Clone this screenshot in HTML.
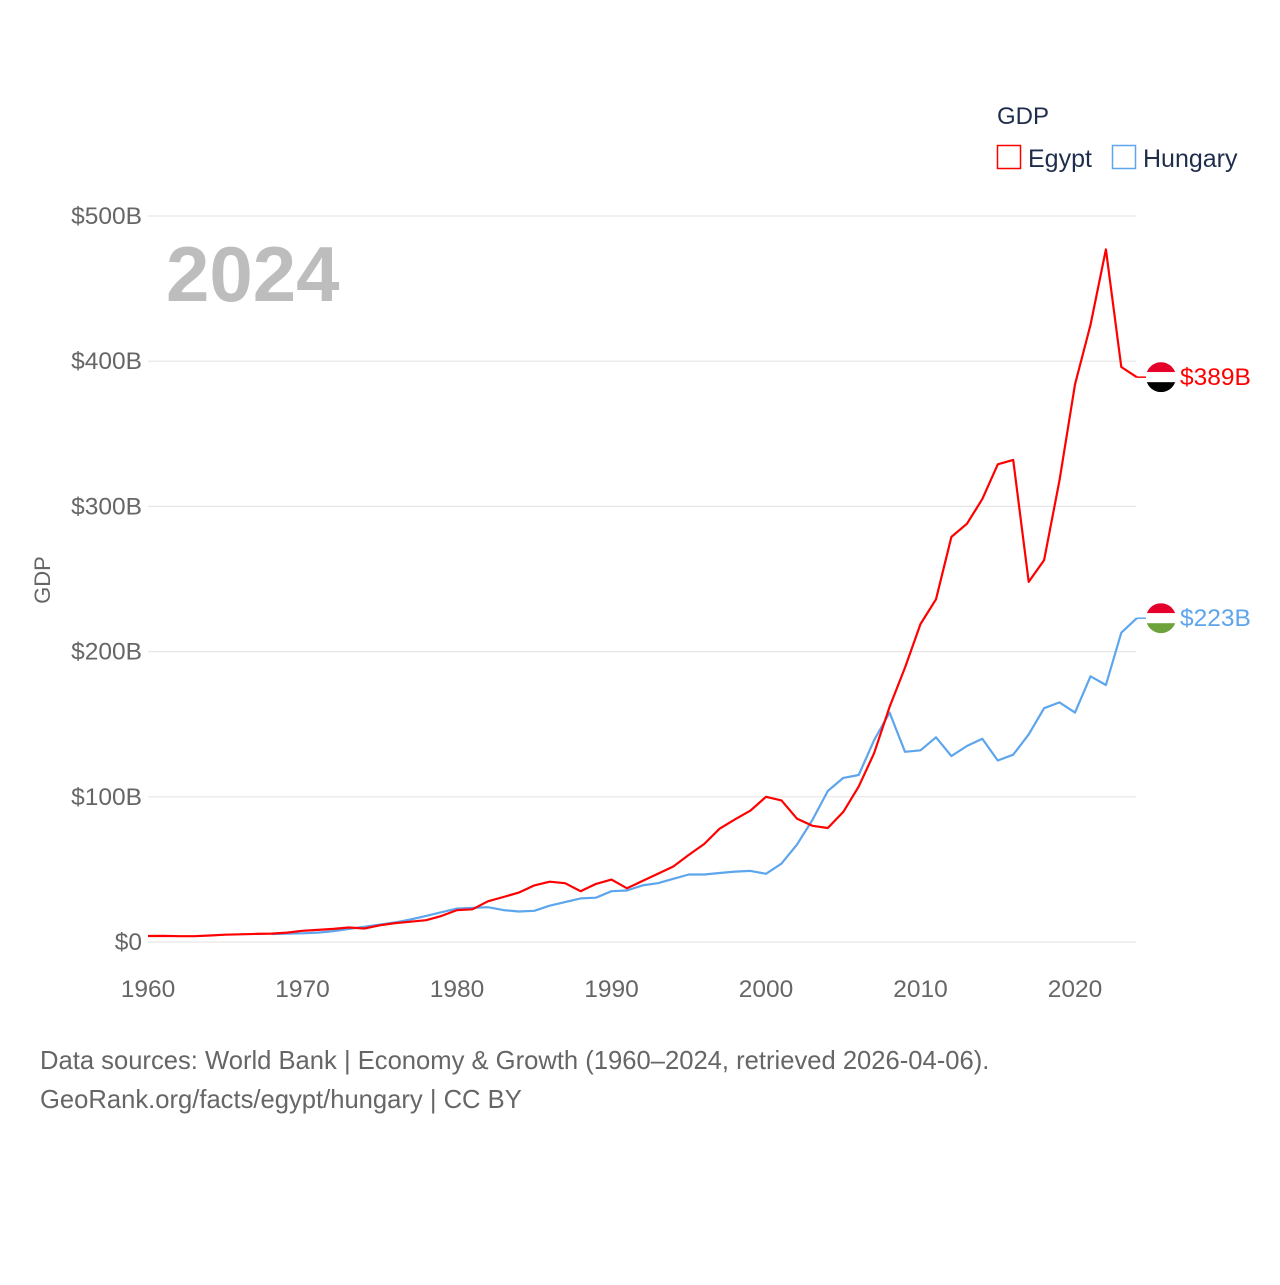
<!DOCTYPE html>
<html><head><meta charset="utf-8"><style>
body{margin:0;background:#fff;font-family:"Liberation Sans",sans-serif}
svg text{font-family:"Liberation Sans",sans-serif}
</style></head><body>
<svg width="1280" height="1280" viewBox="0 0 1280 1280">
<g id="grid"></g><g id="yt"></g><g id="xt"></g>
<text x="166" y="301" font-size="78" font-weight="bold" fill="#bdbdbd">2024</text>
<text x="50" y="580" font-size="22" fill="#666" transform="rotate(-90 50 580)" text-anchor="middle">GDP</text>
<g id="lines"></g>
<g>
<text x="997" y="124" font-size="24" fill="#1f2d4d">GDP</text>
<g><rect x="997.5" y="145.5" width="23" height="23" fill="none" stroke="#ff0000" stroke-width="1.5"/><text x="1028" y="167" font-size="25" fill="#1f2d4d">Egypt</text></g>
<g><rect x="1112.5" y="145.5" width="23" height="23" fill="none" stroke="#5da5ec" stroke-width="1.5"/><text x="1143" y="167" font-size="25" fill="#1f2d4d">Hungary</text></g>
</g>
<text x="40" y="1069" font-size="25.6" fill="#666">Data sources: World Bank | Economy &amp; Growth (1960–2024, retrieved 2026-04-06).</text>
<text x="40" y="1108" font-size="25.6" fill="#666">GeoRank.org/facts/egypt/hungary | CC BY</text>
<defs>
<clipPath id="c1"><circle cx="1161" cy="377" r="15"/></clipPath>
<clipPath id="c2"><circle cx="1161" cy="619" r="15"/></clipPath>
</defs>
<g id="ends"></g>
</svg>
<script>
const yTicks=[0,100,200,300,400,500];
const yTickLabels=["$0","$100B","$200B","$300B","$400B","$500B"];
const xTicks=[1960,1970,1980,1990,2000,2010,2020];
const egyptStart=1960;
const egypt=[4.1,4.2,4.0,4.0,4.5,5.0,5.3,5.6,5.8,6.5,7.7,8.3,9,10,9.3,11.5,13,14,15,18,22,22.5,28,31,34,39,41.5,40.5,35,40,43,37,42,47,52,60,67.5,78,84.5,90.5,100,97.5,85,80,78.5,89.6,107,130,162,189,219,236,279,288,305,329,332,248,263,318,384,425,477,396,389];
const hungaryStart=1968;
const hungary=[5.5,5.8,6,6.5,7.5,9,10.5,12,13.5,15.5,18,20.5,23,23.5,24,22,21,21.5,25,27.5,30,30.5,35,35.5,39,40.5,43.5,46.5,46.5,47.5,48.5,49,47,54,67,84,104,113,115,139,158,131,132,141,128,135,140,125,129,143,161,165,158,183,177,213,223];
const NS="http://www.w3.org/2000/svg";
const X=yr=>148+(yr-1960)*(1075-148)/60;
const Y=v=>942-v*(942-216)/500;
function mk(tag,attrs,parent){const e=document.createElementNS(NS,tag);for(const k in attrs)e.setAttribute(k,attrs[k]);parent.appendChild(e);return e;}
const grid=document.getElementById('grid'),yt=document.getElementById('yt'),xt=document.getElementById('xt'),lines=document.getElementById('lines'),ends=document.getElementById('ends');
yTicks.forEach((v,i)=>{
 const l=mk('line',{x1:148,x2:1136,y1:Y(v),y2:Y(v),stroke:'#e6e6e6','stroke-width':1.2},grid);
 
 
 const t=mk('text',{x:142,y:Y(v)+8,'font-size':24.5,fill:'#666','text-anchor':'end'},yt);
 t.textContent=yTickLabels[i];
 
 
});
xTicks.forEach(yr=>{
 const t=mk('text',{x:X(yr),y:997,'font-size':24.5,fill:'#666','text-anchor':'middle'},xt);
 t.textContent=yr;
 
 
});
function line(arr,start,color,name){
 const d=arr.map((v,i)=>(i?'L':'M')+X(start+i).toFixed(1)+' '+Y(v).toFixed(1)).join(' ');
 const p=mk('path',{d:d,fill:'none',stroke:color,'stroke-width':2.2,'stroke-linejoin':'round'},lines);
 
 
}
line(hungary,hungaryStart,'#5da5ec','hungary-line');
line(egypt,egyptStart,'#ff0000','egypt-line');
function endMark(arr,start,color,clip,cols,name){
 const v=arr[arr.length-1],y=Y(v),x=X(start+arr.length-1);
 const g=mk('g',{},ends);
 
 
 mk('line',{x1:x,x2:1146,y1:y,y2:y,stroke:color,'stroke-width':1.5},g);
 const fg=mk('g',{'clip-path':'url(#'+clip+')'},g);
 cols.forEach((c,i)=>mk('rect',{x:1146,y:y-15+i*10,width:30,height:10,fill:c},fg));
 const t=mk('text',{x:1180,y:y+8,'font-size':24.5,fill:color},g);
 t.textContent='$'+Math.round(v)+'B';
}
endMark(egypt,egyptStart,'#ff0000','c1',['#e4002b','#ffffff','#000000'],'egypt-end-label');
endMark(hungary,hungaryStart,'#5da5ec','c2',['#e4002b','#ffffff','#6ea23a'],'hungary-end-label');
document.getElementById('c1').firstElementChild.setAttribute('cy',Y(egypt[egypt.length-1]));
document.getElementById('c2').firstElementChild.setAttribute('cy',Y(hungary[hungary.length-1]));
</script>
</body></html>
